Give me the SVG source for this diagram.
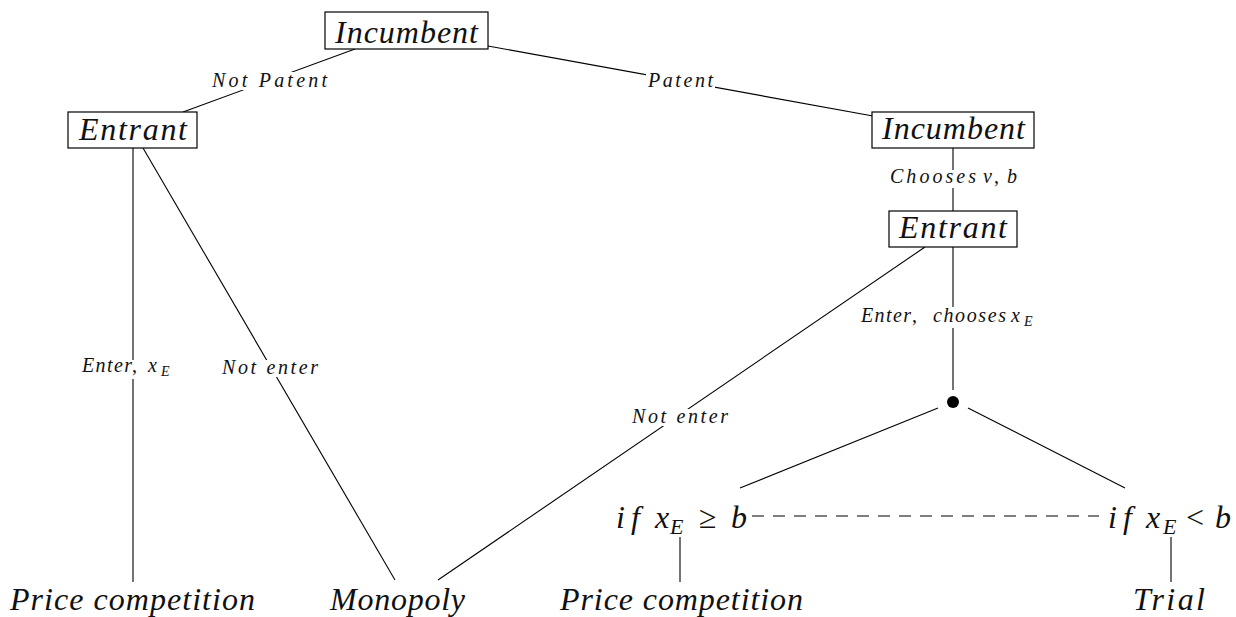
<svg xmlns="http://www.w3.org/2000/svg" width="1236" height="617" viewBox="0 0 1236 617">
<rect width="1236" height="617" fill="#fff"/>
<g id="connectors" stroke="#000" stroke-width="1.1" fill="none">
  <line x1="355" y1="49" x2="183" y2="112"/>
  <line x1="488" y1="46" x2="873" y2="116"/>
  <line x1="953" y1="148" x2="953" y2="211"/>
  <line x1="953" y1="247" x2="953" y2="390"/>
  <line x1="925" y1="247" x2="438" y2="580"/>
  <line x1="133" y1="148" x2="133" y2="582"/>
  <line x1="143" y1="148" x2="395" y2="580"/>
  <line x1="938" y1="408" x2="740" y2="488"/>
  <line x1="968" y1="408" x2="1125" y2="488"/>
  <line x1="680" y1="537" x2="680" y2="582"/>
  <line x1="1171" y1="537" x2="1171" y2="582"/>
  <line x1="752" y1="516" x2="1099" y2="516" stroke="#555" stroke-width="1.4" stroke-dasharray="12 9"/>
  <g id="edge-labels" stroke="none">
    <rect fill="#fff" x="210" y="72" width="119" height="18"/>
    <text font-family="Liberation Serif" font-style="italic" font-size="20" fill="#111" x="212" y="87" textLength="115" lengthAdjust="spacing">Not Patent</text>
    <rect fill="#fff" x="646" y="73" width="69" height="17"/>
    <text font-family="Liberation Serif" font-style="italic" font-size="20" fill="#111" x="648" y="87" textLength="65" lengthAdjust="spacing">Patent</text>
    <rect fill="#fff" x="888" y="170" width="131" height="18"/>
    <text font-family="Liberation Serif" font-style="italic" font-size="20" fill="#111" y="183"><tspan x="890" textLength="86" lengthAdjust="spacing">Chooses</tspan><tspan x="983">ν</tspan><tspan font-style="normal" x="994">,</tspan><tspan x="1007">b</tspan></text>
    <rect fill="#fff" x="859" y="307" width="188" height="21"/>
    <text font-family="Liberation Serif" font-style="italic" font-size="20" fill="#111" y="322"><tspan x="861" textLength="50" lengthAdjust="spacing">Enter</tspan><tspan font-style="normal" x="912">,</tspan><tspan x="933" textLength="73" lengthAdjust="spacing">chooses</tspan><tspan x="1011">x</tspan><tspan font-size="14" x="1024" y="326">E</tspan></text>
    <rect fill="#fff" x="80" y="360" width="104" height="19"/>
    <text font-family="Liberation Serif" font-style="italic" font-size="20" fill="#111" y="372"><tspan x="82" textLength="50" lengthAdjust="spacing">Enter</tspan><tspan font-style="normal" x="132">,</tspan><tspan x="148">x</tspan><tspan font-size="14" x="161" y="376">E</tspan></text>
    <rect fill="#fff" x="220" y="360" width="100" height="17"/>
    <text font-family="Liberation Serif" font-style="italic" font-size="20" fill="#111" x="222" y="374" textLength="96" lengthAdjust="spacing">Not enter</text>
    <rect fill="#fff" x="630" y="409" width="100" height="17"/>
    <text font-family="Liberation Serif" font-style="italic" font-size="20" fill="#111" x="632" y="423" textLength="96" lengthAdjust="spacing">Not enter</text>
  </g>
</g>
<g id="n-incumbent-top">
  <rect fill="#fff" stroke="#000" stroke-width="1.2" x="325" y="12" width="163" height="37"/>
  <text font-family="Liberation Serif" font-style="italic" font-size="32" fill="#111" x="335" y="43" textLength="143" lengthAdjust="spacing">Incumbent</text>
</g>
<g id="n-entrant-left">
  <rect fill="#fff" stroke="#000" stroke-width="1.2" x="68" y="112" width="129" height="36"/>
  <text font-family="Liberation Serif" font-style="italic" font-size="32" fill="#111" x="79" y="140" textLength="108" lengthAdjust="spacing">Entrant</text>
</g>
<g id="n-incumbent-right">
  <rect fill="#fff" stroke="#000" stroke-width="1.2" x="872" y="112" width="162" height="36"/>
  <text font-family="Liberation Serif" font-style="italic" font-size="32" fill="#111" x="882" y="139" textLength="143" lengthAdjust="spacing">Incumbent</text>
</g>
<g id="n-entrant-right">
  <rect fill="#fff" stroke="#000" stroke-width="1.2" x="889" y="211" width="128" height="36"/>
  <text font-family="Liberation Serif" font-style="italic" font-size="32" fill="#111" x="899" y="238" textLength="108" lengthAdjust="spacing">Entrant</text>
</g>
<g id="n-chance">
  <circle cx="953" cy="402" r="6" fill="#000"/>
</g>
<g id="n-if-ge">
  <text font-family="Liberation Serif" font-style="italic" font-size="32" fill="#111" y="528"><tspan x="616" textLength="24" lengthAdjust="spacing">if</tspan><tspan x="655">x</tspan><tspan font-size="22" x="670" y="534">E</tspan><tspan font-style="normal" x="699" y="528">≥</tspan><tspan x="731">b</tspan></text>
</g>
<g id="n-if-lt">
  <text font-family="Liberation Serif" font-style="italic" font-size="32" fill="#111" y="528"><tspan x="1108" textLength="24" lengthAdjust="spacing">if</tspan><tspan x="1146">x</tspan><tspan font-size="22" x="1163" y="534">E</tspan><tspan font-style="normal" x="1186" y="528">&lt;</tspan><tspan x="1215">b</tspan></text>
</g>
<g id="n-price-1">
  <text font-family="Liberation Serif" font-style="italic" font-size="32" fill="#111" x="10" y="610" textLength="245" lengthAdjust="spacing">Price competition</text>
</g>
<g id="n-monopoly">
  <text font-family="Liberation Serif" font-style="italic" font-size="32" fill="#111" x="330" y="610" textLength="135" lengthAdjust="spacing">Monopoly</text>
</g>
<g id="n-price-2">
  <text font-family="Liberation Serif" font-style="italic" font-size="32" fill="#111" x="560" y="610" textLength="243" lengthAdjust="spacing">Price competition</text>
</g>
<g id="n-trial">
  <text font-family="Liberation Serif" font-style="italic" font-size="32" fill="#111" x="1133" y="610" textLength="72" lengthAdjust="spacing">Trial</text>
</g>
</svg>
